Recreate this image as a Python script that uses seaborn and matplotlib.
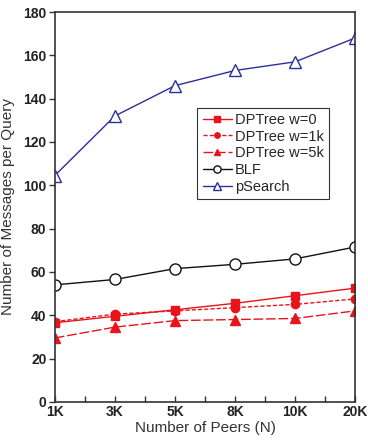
import numpy as np
import pandas as pd
import matplotlib
matplotlib.use("Agg")
import matplotlib.pyplot as plt
import seaborn as sns

# data
peers = ["1K", "3K", "5K", "8K", "10K", "20K"]
dptree_w0 = [36.5, 39.5, 42.5, 45.5, 49, 52.5]
dptree_w1k = [37, 40.5, 42, 43.5, 45, 47.5]
dptree_w5k = [29.5, 34.5, 37.5, 38, 38.5, 42]
blf = [54, 56.5, 61.5, 63.5, 66, 71.5]
psearch = [104.5, 132, 146, 153, 157, 168]

series = ["DPTree w=0", "DPTree w=1k", "DPTree w=5k", "BLF", "pSearch"]
values = [dptree_w0, dptree_w1k, dptree_w5k, blf, psearch]

rows = []
for name, vals in zip(series, values):
    for i, v in enumerate(vals):
        rows.append({"pos": i, "peers": peers[i], "series": name, "msgs": v})
df = pd.DataFrame(rows)

sns.set_style("ticks")
plt.rcParams["font.family"] = ["Liberation Sans", "DejaVu Sans"]

fig = plt.figure(figsize=(3.68, 4.45), dpi=100)
ax = fig.add_axes([0.149, 0.097, 0.816, 0.876])

red = "#e8141c"
navy = "#2b2f9a"
styles = {
    "DPTree w=0": dict(color=red, marker="s", linestyle="-", mfc=red, ms=6),
    "DPTree w=1k": dict(color=red, marker="o", linestyle=(0, (3, 1.5)), mfc=red, ms=6),
    "DPTree w=5k": dict(color=red, marker="^", linestyle=(0, (7, 2)), mfc=red, ms=7),
    "BLF": dict(color="#111111", marker="o", linestyle="-", mfc="white", ms=8),
    "pSearch": dict(color=navy, marker="^", linestyle="-", mfc="white", ms=9),
}

for name in series:
    sub = df[df["series"] == name]
    st = styles[name]
    sns.lineplot(data=sub, x="pos", y="msgs", ax=ax, label=name,
                 color=st["color"], linestyle=st["linestyle"], linewidth=1,
                 marker=st["marker"], markersize=st["ms"],
                 markerfacecolor=st["mfc"], markeredgecolor=st["color"],
                 markeredgewidth=1)

ax.set_xlim(0, len(peers) - 1)
ax.set_ylim(0, 180)
ax.set_xticks(range(len(peers)))
ax.set_xticklabels(peers, fontweight="bold", fontsize=10)
ax.set_xticks(np.arange(0.5, len(peers) - 1, 1), minor=True)
ax.set_yticks(range(0, 181, 20))
ax.set_yticklabels([str(v) for v in range(0, 181, 20)], fontweight="bold", fontsize=10)
ax.tick_params(axis="x", which="both", direction="in", length=4, width=1, pad=2, colors="#333333")
ax.tick_params(axis="y", direction="out", length=4, width=1, pad=2, colors="#333333")
for lbl in ax.get_xticklabels() + ax.get_yticklabels():
    lbl.set_color("#222222")

for sp in ax.spines.values():
    sp.set_visible(True)
    sp.set_color("#333333")
    sp.set_linewidth(1.2)

ax.set_xlabel("Number of Peers (N)", fontsize=11, color="#333333", labelpad=2)
ax.set_ylabel("Number of Messages per Query", fontsize=11, color="#333333", labelpad=6)

leg = ax.legend(loc="upper left", bbox_to_anchor=(0.475, 0.755), fontsize=10.5,
                frameon=True, fancybox=False, framealpha=1, edgecolor="#333333",
                handlelength=2.0, handletextpad=0.2, borderpad=0.35, labelspacing=0.2,
                markerscale=0.65, borderaxespad=0)
leg.get_frame().set_linewidth(0.8)

fig.savefig("out.png", dpi=100)
